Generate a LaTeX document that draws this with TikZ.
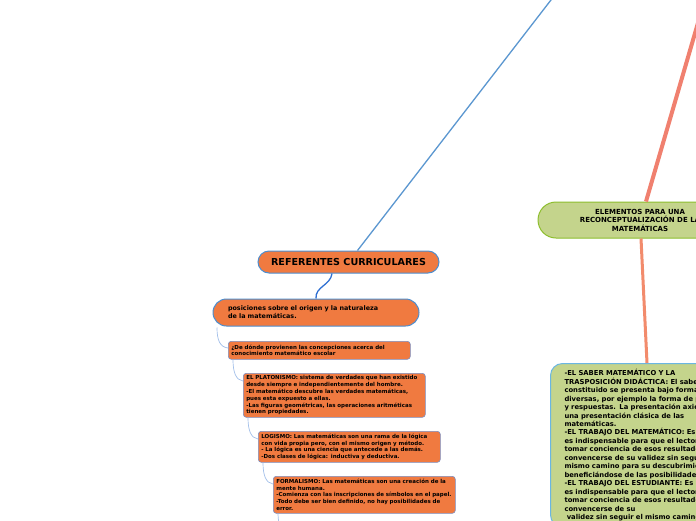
\documentclass[tikz,border=0pt]{standalone}
\usepackage{fontspec}
\setmainfont{DejaVu Sans}
\usetikzlibrary{shapes.misc,calc}
\definecolor{orfill}{HTML}{F07A40}
\definecolor{orborder}{HTML}{4C8ED0}
\definecolor{subborder}{HTML}{7A8FC4}
\definecolor{topblue}{HTML}{5B97D0}
\definecolor{darkblue}{HTML}{2E6FD2}
\definecolor{lightblue}{HTML}{A3C0EA}
\definecolor{grfill}{HTML}{C4D48C}
\definecolor{grborder}{HTML}{8DBE2E}
\definecolor{salmon}{HTML}{F0806F}
\definecolor{salmontwo}{HTML}{F28B6C}
\definecolor{bigborder}{HTML}{6AB6E2}
\begin{document}
\begin{tikzpicture}[x=1pt,y=-1pt,
  pillbox/.style={rounded rectangle, draw=orborder, fill=orfill, line width=1pt, inner sep=0pt},
  subbox/.style={draw=subborder, fill=orfill, line width=0.6pt, rounded corners=3pt,
    anchor=north west, align=left, inner xsep=3pt, inner ysep=0pt, text width=176pt,
    font=\fontsize{5.5}{6.8}\selectfont\bfseries},
  link/.style={lightblue, line width=0.7pt},
  greenpill/.style={rounded rectangle, draw=grborder, fill=grfill, line width=1pt, inner sep=0pt},
  bigbox/.style={draw=bigborder, fill=grfill, line width=1pt, rounded corners=12pt,
    anchor=north west, align=left, inner xsep=14pt, inner ysep=6pt, text width=180pt,
    font=\fontsize{6.8}{8.45}\selectfont\bfseries}
]
\useasboundingbox (0,0) rectangle (696,520);
\clip (0,0) rectangle (696,520);
\fill[white] (0,0) rectangle (696,520);

% nodes
\node[pillbox, minimum width=181pt, minimum height=22pt,
  font=\fontsize{9.6}{11}\selectfont\bfseries] (ref) at (348.5,262) {REFERENTES CURRICULARES};
\node[pillbox, minimum width=206pt, minimum height=27pt, text width=176pt, align=left,
  font=\fontsize{6.4}{8}\selectfont\bfseries] (pos) at (316,312.5)
  {posiciones sobre el origen y la naturaleza\\de la matemáticas.};

\node[subbox, minimum height=18pt] (s1) at (228,341)
  {¿De dónde provienen las concepciones acerca del\\conocimiento matemático escolar};
\node[subbox, minimum height=44pt] (s2) at (243,373)
  {EL PLATONISMO: sistema de verdades que han existido\\desde siempre e independientemente del hombre.\\-El matemático descubre las verdades matemáticas,\\pues esta expuesto a ellas.\\-Las figuras geométricas, las operaciones aritméticas\\tienen propiedades.};
\node[subbox, minimum height=31pt] (s3) at (258,431)
  {LOGISMO: Las matemáticas son una rama de la lógica\\con vida propia pero, con el mismo origen y método.\\- La lógica es una ciencia que antecede a las demás.\\-Dos clases de lógica: inductiva y deductiva.};
\node[subbox, minimum height=37pt] (s4) at (273,476)
  {FORMALISMO: Las matemáticas son una creación de la\\mente humana.\\-Comienza con las inscripciones de símbolos en el papel.\\-Todo debe ser bien definido, no hay posibilidades de\\error.};

\node[greenpill, minimum width=204pt, minimum height=36pt, align=center,
  font=\fontsize{7}{8.5}\selectfont\bfseries] (elem) at (640,220)
  {ELEMENTOS PARA UNA\\RECONCEPTUALIZACIÓN DE LA\\MATEMÁTICAS};

\node[bigbox] (big) at (550,363)
  {-EL SABER MATEMÁTICO Y LA\\
   TRASPOSICIÓN DIDÁCTICA: El saber\\
   constituido se presenta bajo formas\\
   diversas, por ejemplo la forma de preguntas\\
   y respuestas. La presentación axiomática es\\
   una presentación clásica de las\\
   matemáticas.\\
   -EL TRABAJO DEL MATEMÁTICO: Es\\
   es indispensable para que el lector pueda\\
   tomar conciencia de esos resultados y\\
   convencerse de su validez sin seguir el\\
   mismo camino para su descubrimiento,\\
   beneficiándose de las posibilidades\\
   -EL TRABAJO DEL ESTUDIANTE: Es\\
   es indispensable para que el lector pueda\\
   tomar conciencia de esos resultados y\\
   convencerse de su\\
   \ validez sin seguir el mismo camino};

% free ends
\coordinate (topA) at (552.5,-2);
\coordinate (topB) at (700,16);
\coordinate (tail) at (290,536);

% connectors
\draw[topblue, line width=1.3pt] (topA) -- ($(ref.north)+(9,0)$);
\draw[darkblue, line width=1.3pt] ($(ref.south)+(-16.5,0)$)
  .. controls ($(ref.south)+(-18,12)$) and ($(pos.north)+(-1,-12)$) .. (pos.north);
\draw[salmon, line width=4pt] (topB) -- ($(elem.north)+(6,0)$);
\draw[salmontwo, line width=3pt] ($(elem.south)+(1,0)$) -- ($(big.north west)+(97,0)$);

\draw[link] ($(pos.south)+(-99,1)$)
  .. controls ($(pos.south)+(-99,14)$) and ($(s1.north west)+(-8,6)$) .. ($(s1.north west)+(0,7)$);
\draw[link] ($(s1.south west)+(5,0)$)
  .. controls ($(s1.south west)+(5,13)$) and ($(s2.north west)+(-7,7)$) .. ($(s2.north west)+(0,8)$);
\draw[link] ($(s2.south west)+(5,0)$)
  .. controls ($(s2.south west)+(5,13)$) and ($(s3.north west)+(-7,7)$) .. ($(s3.north west)+(0,8)$);
\draw[link] ($(s3.south west)+(5,0)$)
  .. controls ($(s3.south west)+(5,13)$) and ($(s4.north west)+(-7,7)$) .. ($(s4.north west)+(0,8)$);
\draw[link] ($(s4.south west)+(5,0)$)
  .. controls ($(s4.south west)+(5,13)$) and ($(tail)+(-7,-1)$) .. (tail);
\end{tikzpicture}
\end{document}
